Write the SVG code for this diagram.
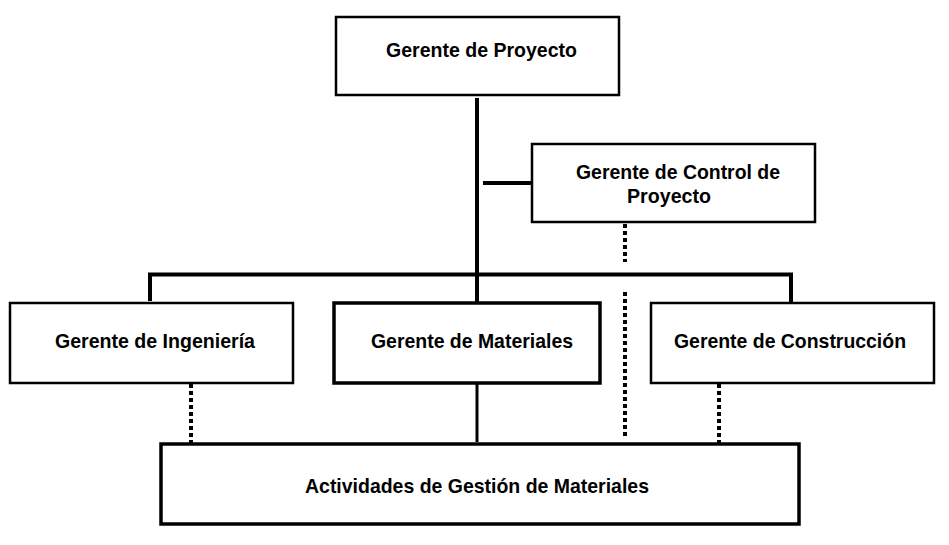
<svg xmlns="http://www.w3.org/2000/svg" width="949" height="545" viewBox="0 0 949 545">
<style>
.box{fill:#fff;stroke:#000;stroke-width:2.5}
.thick{stroke-width:3.5}
.t{font-family:"Liberation Sans",Arial,sans-serif;font-weight:bold;font-size:21px;fill:#000;text-anchor:middle}
.solid{stroke:#000;stroke-width:4;fill:none}
.dot{stroke:#000;stroke-width:4;fill:none;stroke-dasharray:4 3}
</style>
<rect width="949" height="545" fill="#fff"/>
<g id="connectors">
<line class="solid" x1="477" y1="98" x2="477" y2="303"/>
<line class="solid" x1="483" y1="183" x2="541" y2="183"/>
<polyline class="solid" points="150,301 150,274.5 791,274.5 791,303"/>
<line class="solid" x1="477" y1="383" x2="477" y2="442" style="stroke-width:3"/>
<line class="dot" x1="625" y1="224" x2="625" y2="262"/>
<line class="dot" x1="625" y1="292" x2="625" y2="438"/>
<line class="dot" x1="191" y1="384" x2="191" y2="444"/>
<line class="dot" x1="719" y1="384" x2="719" y2="444"/>
</g>
<g id="n-proyecto">
<rect class="box" x="336" y="17" width="283" height="78"/>
<text class="t" x="481.5" y="57" textLength="191" lengthAdjust="spacingAndGlyphs">Gerente de Proyecto</text>
</g>
<g id="n-control">
<rect class="box" x="532" y="144" width="283" height="78"/>
<text class="t" x="678" y="179" textLength="204" lengthAdjust="spacingAndGlyphs">Gerente de Control de</text>
<text class="t" x="669" y="203" textLength="84" lengthAdjust="spacingAndGlyphs">Proyecto</text>
</g>
<g id="n-ingenieria">
<rect class="box" x="10" y="303" width="283" height="80"/>
<text class="t" x="155" y="348" textLength="200" lengthAdjust="spacingAndGlyphs">Gerente de Ingeniería</text>
</g>
<g id="n-materiales">
<rect class="box thick" x="334" y="303" width="266" height="80"/>
<text class="t" x="472" y="348" textLength="202" lengthAdjust="spacingAndGlyphs">Gerente de Materiales</text>
</g>
<g id="n-construccion">
<rect class="box" x="651" y="303" width="283" height="80"/>
<text class="t" x="790" y="348" textLength="232" lengthAdjust="spacingAndGlyphs">Gerente de Construcción</text>
</g>
<g id="n-actividades">
<rect class="box thick" x="161" y="444" width="638" height="80"/>
<text class="t" x="477" y="493" textLength="344" lengthAdjust="spacingAndGlyphs">Actividades de Gestión de Materiales</text>
</g>
</svg>
